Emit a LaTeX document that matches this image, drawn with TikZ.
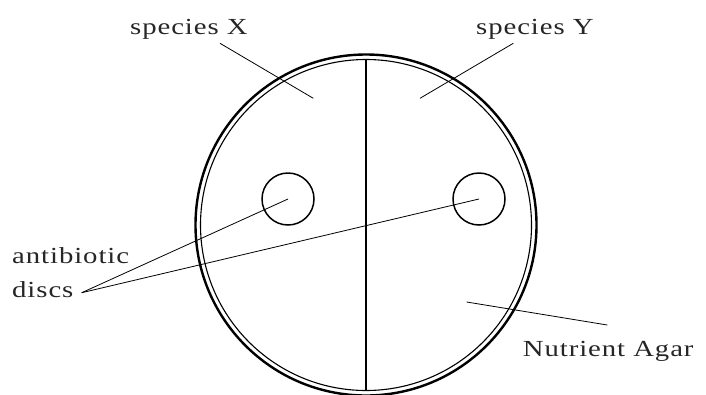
\documentclass[tikz,border=0pt]{standalone}
\usepackage{fontspec}
\setmainfont{Liberation Serif}[FakeStretch=1.25,LetterSpace=4]
\usetikzlibrary{positioning}
\tikzset{
  dish/rim/.style={draw, line width=2.4pt},
  dish/inner/.style={draw, line width=1.1pt},
  dish/disc/.style={draw, line width=1.5pt},
  dish/split/.style={draw, line width=1.2pt},
  dish/leader/.style={draw, line width=0.8pt},
  dish/label/.style={anchor=base west, inner sep=0pt, text=black!85, font=\fontsize{23}{34}\selectfont}
}
\begin{document}
\begin{tikzpicture}[x=1pt, y=-1pt]
  \useasboundingbox (0,0) rectangle (706,394);
  \coordinate (c) at (366,225);

  % the plate
  \draw[dish/rim] (c) circle[radius=170.5pt];
  \draw[dish/inner] (c) circle[radius=165.5pt];
  \coordinate (top) at (366,59.5);
  \coordinate (bot) at (366,390.5);
  \draw[dish/split] (top) -- (bot);

  % discs
  \node[dish/disc, circle, minimum size=52pt, inner sep=0pt] (discL) at (288,199) {};
  \node[dish/disc, circle, minimum size=52pt, inner sep=0pt] (discR) at (479,199) {};

  % labels
  \node[dish/label] (labX) at (130,34.3) {species X};
  \node[dish/label] (labY) at (476,34.3) {species Y};
  \node[dish/label] (labA) at (12,263) {antibiotic};
  \node[dish/label] (labD) at (12,297) {discs};
  \node[dish/label] (labN) at (522.7,356.7) {Nutrient Agar};

  \coordinate (xa) at (220,43.3);
  \coordinate (xb) at (313.3,98.3);
  \coordinate (ya) at (513.3,43.3);
  \coordinate (yb) at (420,98.3);
  \coordinate (da) at (81.7,292.7);
  \coordinate (na) at (607.3,325);
  \coordinate (nb) at (466.7,302);

  \draw[dish/leader] (xa) -- (xb);
  \draw[dish/leader] (ya) -- (yb);
  \draw[dish/leader] (da) -- (discL.center);
  \draw[dish/leader] (da) -- (discR.center);
  \draw[dish/leader] (na) -- (nb);
\end{tikzpicture}
\end{document}
